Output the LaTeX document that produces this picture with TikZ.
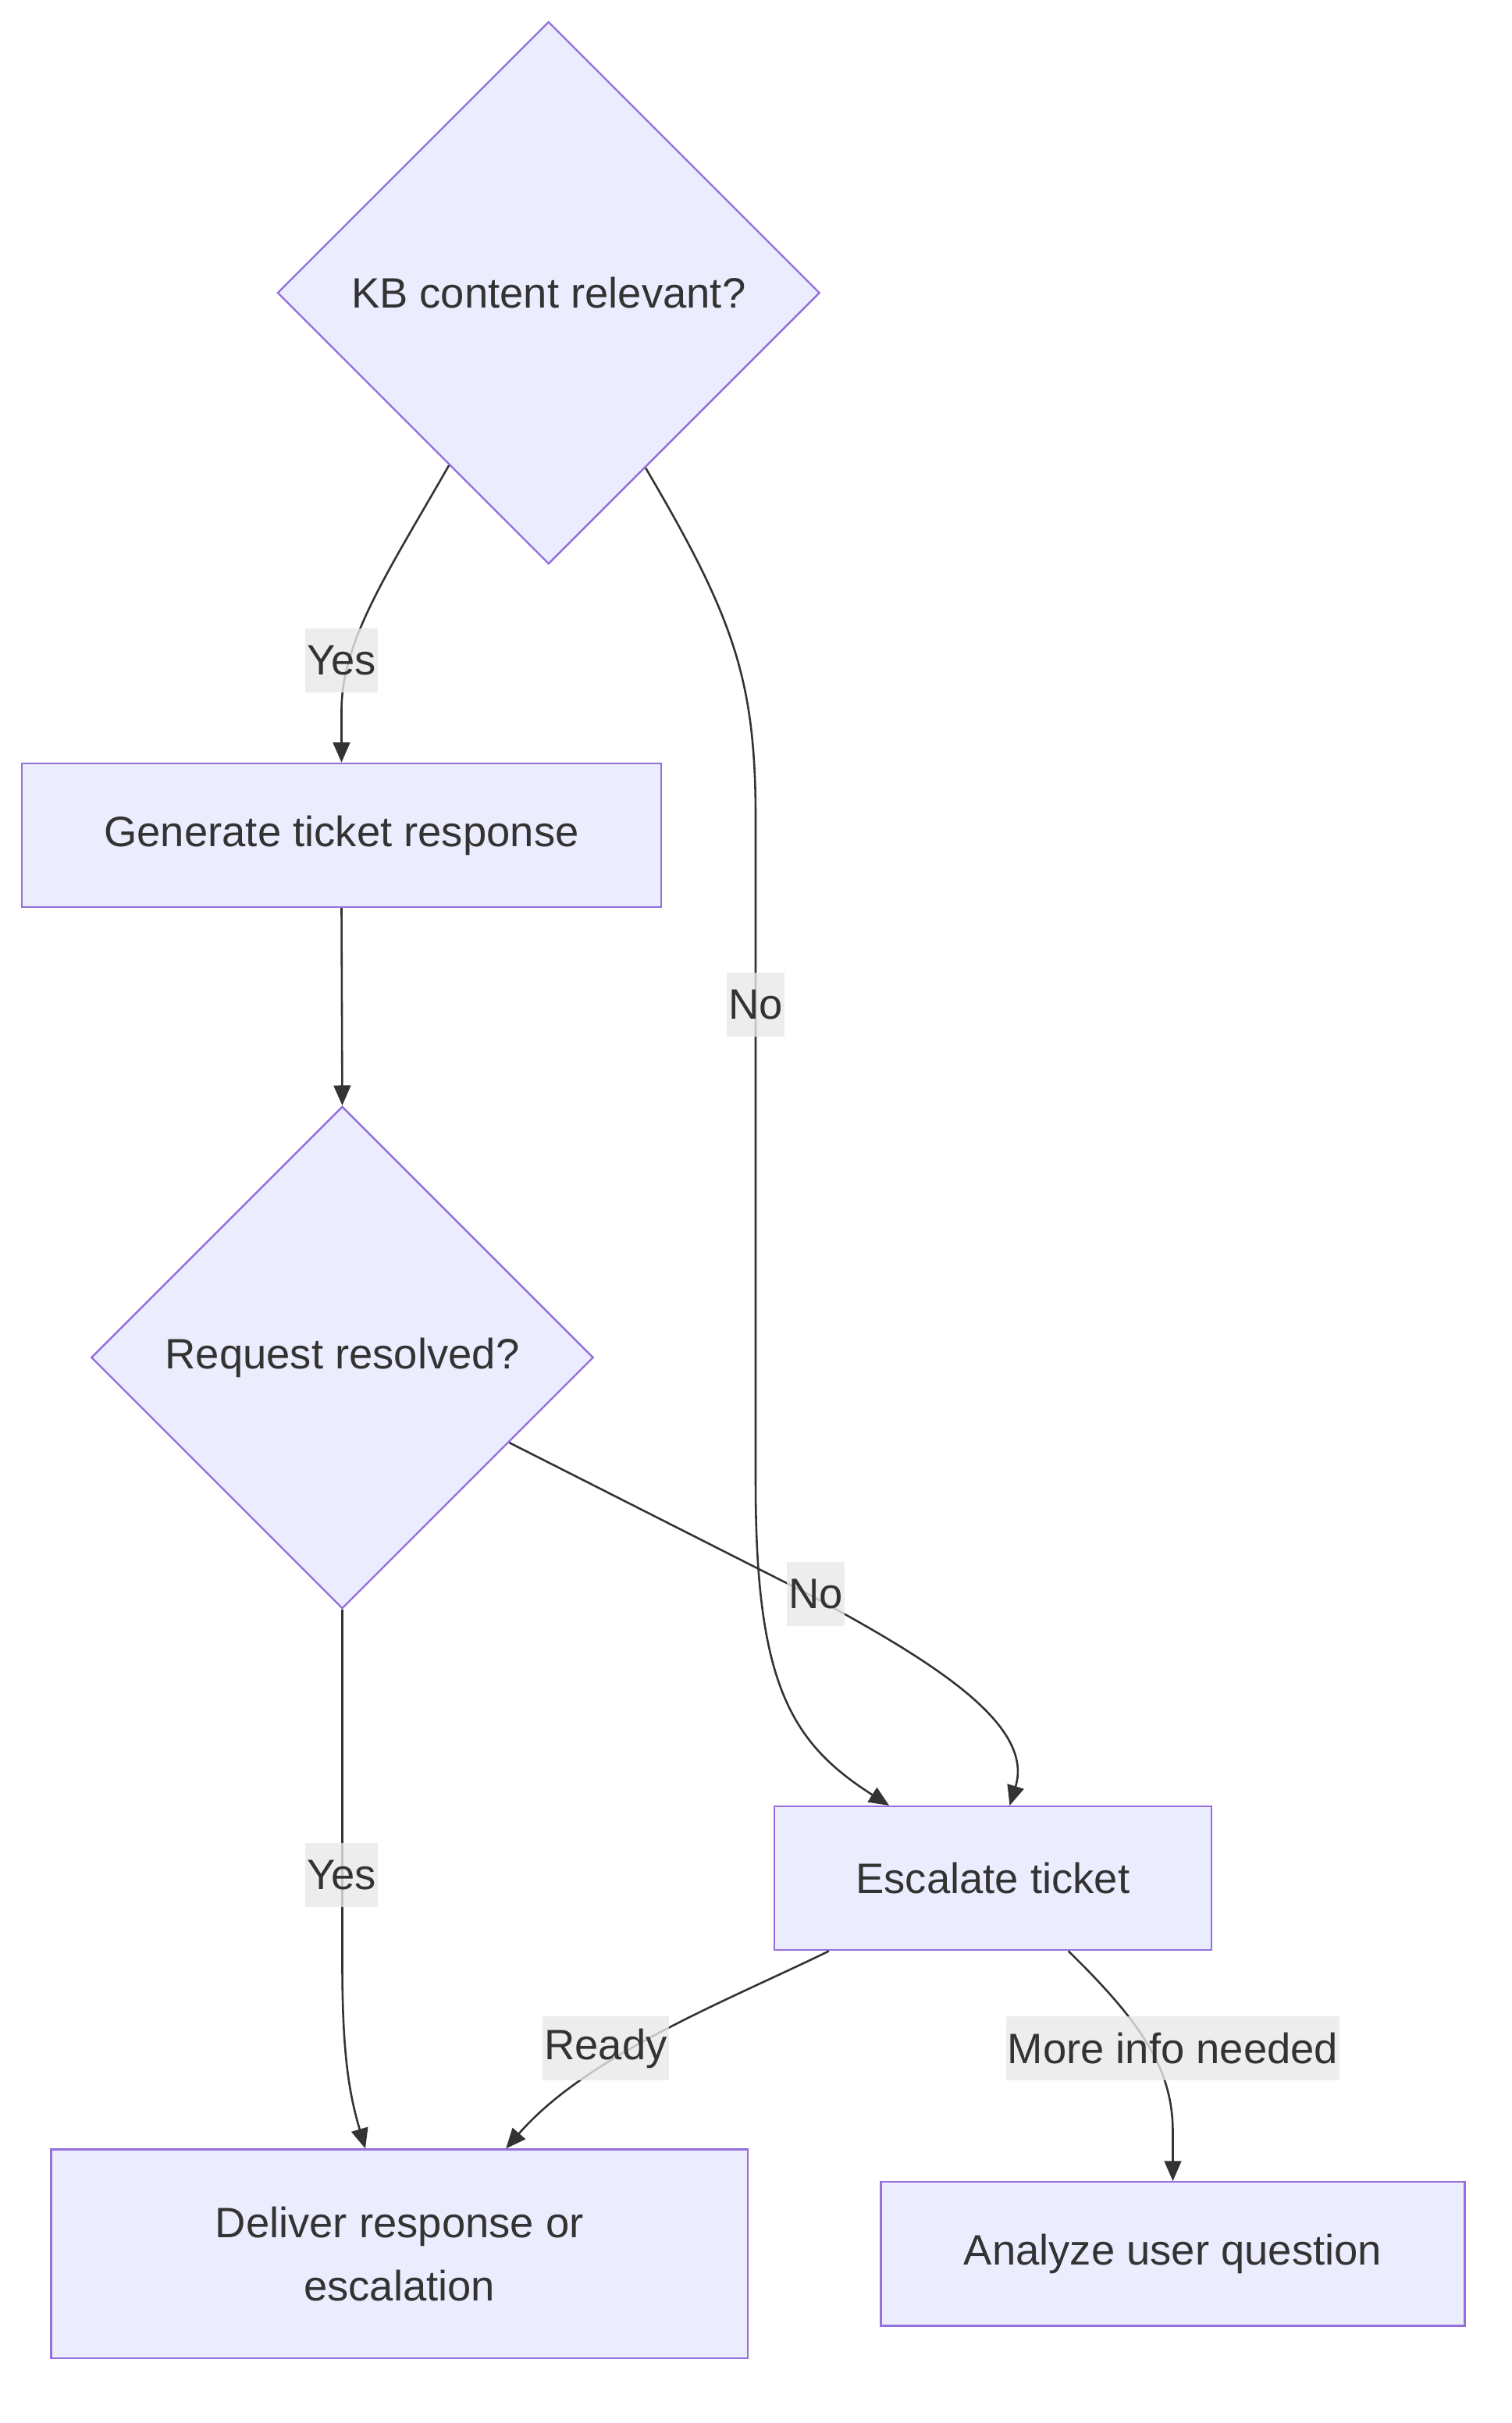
\documentclass[tikz,border=0pt]{standalone}
\usepackage{fontspec}
\setmainfont{Liberation Sans}
\usetikzlibrary{shapes.geometric,arrows.meta,calc}
\definecolor{nodefill}{HTML}{ECECFF}
\definecolor{nodeline}{HTML}{9370DB}
\definecolor{txt}{HTML}{333333}
\definecolor{lblbg}{HTML}{E8E8E8}
\begin{document}
\begin{tikzpicture}[x=1pt,y=-1pt,
  every node/.style={font=\fontsize{27.5}{41}\selectfont, text=txt},
  procbox/.style={draw=nodeline, fill=nodefill, line width=1.2pt, rectangle, inner sep=0pt},
  decision/.style={draw=nodeline, fill=nodefill, line width=1.2pt, diamond, aspect=1, inner sep=0pt},
  edgelabel/.style={fill=lblbg, fill opacity=0.8, text opacity=1, inner xsep=1pt, inner ysep=0pt, minimum height=41.5pt},
  flow/.style={draw=txt, line width=1.3pt, -{Triangle[length=13pt,width=11pt]}}
]
\useasboundingbox (0,0) rectangle (978,1568);

% nodes
\node[decision, minimum width=351pt, minimum height=351pt] (d1) at (355,189.5) {KB content relevant?};
\node[procbox, minimum width=414pt, minimum height=93pt] (gen) at (221,540.5) {Generate ticket response};
\node[decision, minimum width=325pt, minimum height=325pt] (d2) at (221.5,878.5) {Request resolved?};
\node[procbox, minimum width=283pt, minimum height=93pt] (esc) at (642.5,1215.5) {Escalate ticket};
\node[procbox, minimum width=451pt, minimum height=135pt, align=center] (del) at (258.5,1458.5) {Deliver response or\\escalation};
\node[procbox, minimum width=378pt, minimum height=93pt] (ana) at (759,1458.5) {Analyze user question};

% connectors
\draw[flow] (d1.240) .. controls (250,372) and (221,415) .. (221,460) -- (gen.north);
\draw[flow] (d1.-61) .. controls (475,400) and (489,440) .. (489,530) -- (489,960)
  .. controls (489,1090) and (512,1128) .. ($(esc.north west)+(75,0)$);
\draw[flow] (gen.south) -- (d2.north);
\draw[flow] (d2.-27) -- (520,1030) .. controls (600,1073) and (670,1115) .. ($(esc.north west)+(153,0)$);
\draw[flow] (d2.south) -- (221.5,1270) .. controls (221.5,1330) and (226,1355) .. ($(del.north west)+(204,0)$);
\draw[flow] ($(esc.south west)+(36,0)$) .. controls (470,1295) and (380,1330) .. ($(del.north west)+(295,0)$);
\draw[flow] ($(esc.south west)+(191,0)$) .. controls (740,1310) and (759,1340) .. (759,1380) -- (ana.north);

% edge labels
\node[edgelabel] (l1) at (221,427.5) {Yes};
\node[edgelabel] (l2) at (489,650) {No};
\node[edgelabel] (l3) at (528,1031.5) {No};
\node[edgelabel] (l4) at (221,1213.5) {Yes};
\node[edgelabel] (l5) at (392,1325.5) {Ready};
\node[edgelabel] (l6) at (759,1325.5) {More info needed};
\end{tikzpicture}
\end{document}
